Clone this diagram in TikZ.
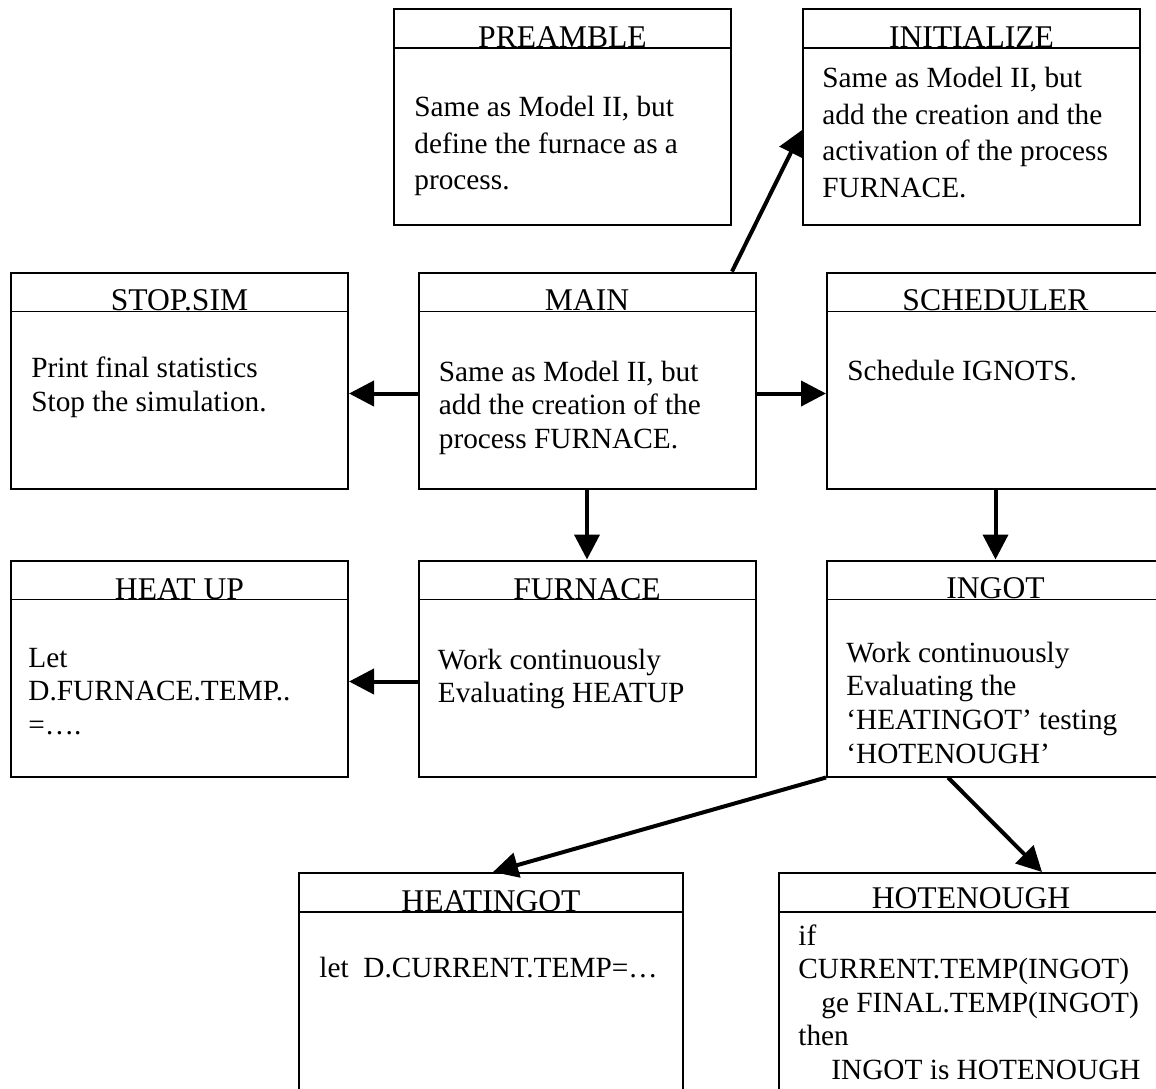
\documentclass[tikz,border=0pt]{standalone}
\usepackage{fontspec}
\setmainfont{Liberation Serif}
\usepackage{tikz}
\usetikzlibrary{positioning, arrows.meta}
\newcommand{\bodyfont}{\fontsize{14.65pt}{16.8pt}\selectfont}
\newcommand{\loosefont}{\fontsize{14.65pt}{18.3pt}\selectfont}
\newcommand{\ttlfont}{\fontsize{15.8pt}{18pt}\selectfont}
\begin{document}
\begin{tikzpicture}[x=0.5pt,y=-0.5pt,proc/.style={draw, line width=1pt, inner sep=0pt, minimum width=168.5pt, minimum height=108pt, path picture={\draw[line width=0.7pt] ([yshift=-19.5pt]path picture bounding box.north west)--([yshift=-19.5pt]path picture bounding box.north east);}},procwide/.style={proc, minimum width=192pt, minimum height=120pt},ttl/.style={anchor=base, inner sep=0pt, font=\ttlfont},txt/.style={inner sep=0pt, align=left, font=\bodyfont},arr/.style={-{Triangle[length=12.5pt,width=12.5pt]}, line width=2pt}]
\useasboundingbox (0,0) rectangle (1156,1088);
\node[proc] (pre) at (562.5,117) {};
\node[proc] (init) at (971.5,117) {};
\node[proc] (stop) at (179.5,380.5) {};
\node[proc] (main) at (587,380.5) {};
\node[proc] (sched) at (995.5,380.5) {};
\node[proc] (heat) at (179.5,668.5) {};
\node[proc] (furn) at (587,668.5) {};
\node[proc] (ingot) at (995.5,668.5) {};
\node[procwide] (hting) at (491,993) {};
\node[procwide] (hot) at (971,993) {};
\node[ttl] (preT) at ([yshift=-19.5pt]pre.north) {PREAMBLE};
\node[ttl] (initT) at ([yshift=-19.5pt]init.north) {INITIALIZE};
\node[ttl] (stopT) at ([yshift=-19.5pt]stop.north) {STOP.SIM};
\node[ttl] (mainT) at ([yshift=-19.5pt]main.north) {MAIN};
\node[ttl] (schedT) at ([yshift=-19.5pt]sched.north) {SCHEDULER};
\node[ttl] (heatT) at ([yshift=-20pt]heat.north) {HEAT UP};
\node[ttl] (furnT) at ([yshift=-20pt]furn.north) {FURNACE};
\node[ttl] (ingotT) at ([yshift=-19.5pt]ingot.north) {INGOT};
\node[ttl] (htingT) at ([yshift=-19.5pt]hting.north) {HEATINGOT};
\node[ttl] (hotT) at ([yshift=-18pt]hot.north) {HOTENOUGH};
\node[txt, font=\loosefont, below right=44pt and 10.5pt of pre.north west] (preB) {Same as Model II, but\\define the furnace as a\\process.};
\node[txt, font=\loosefont, below right=29.5pt and 10pt of init.north west] (initB) {Same as Model II, but\\add the creation and the\\activation of the process\\FURNACE.};
\node[txt, below right=42.5pt and 10.5pt of stop.north west] (stopB) {Print final statistics\\Stop the simulation.};
\node[txt, below right=44.5pt and 10.5pt of main.north west] (mainB) {Same as Model II, but\\add the creation of the\\process FURNACE.};
\node[txt, below right=44pt and 10.5pt of sched.north west] (schedB) {Schedule IGNOTS.};
\node[txt, below right=44pt and 9pt of heat.north west] (heatB) {Let\\D.FURNACE.TEMP..\\=….};
\node[txt, below right=44.5pt and 10pt of furn.north west] (furnB) {Work continuously\\Evaluating HEATUP};
\node[txt, below right=41pt and 10pt of ingot.north west] (ingotB) {Work continuously\\Evaluating the\\‘HEATINGOT’ testing\\‘HOTENOUGH’};
\node[txt, below right=42.5pt and 10.5pt of hting.north west] (htingB) {let\ \ D.CURRENT.TEMP=…};
\node[txt, below right=26pt and 10pt of hot.north west] (hotB) {if\\CURRENT.TEMP(INGOT)\\\hspace*{11.5pt}ge FINAL.TEMP(INGOT)\\then\\\hspace*{16.5pt}INGOT is HOTENOUGH};
\draw[arr] ([xshift=72.5pt]main.north)--([yshift=-6.5pt]init.west);
\draw[arr] ([yshift=-6.5pt]main.west)--([yshift=-6.5pt]stop.east);
\draw[arr] ([yshift=-6.5pt]main.east)--([yshift=-6.5pt]sched.west);
\draw[arr] (main.south)--(furn.north);
\draw[arr] (sched.south)--(ingot.north);
\draw[arr] ([yshift=-6.5pt]furn.west)--([yshift=-6.5pt]heat.east);
\draw[arr] (ingot.south west)--([xshift=1pt]hting.north);
\draw[arr] ([xshift=-23.75pt]ingot.south)--([xshift=35.5pt]hot.north);
\end{tikzpicture}
\end{document}
